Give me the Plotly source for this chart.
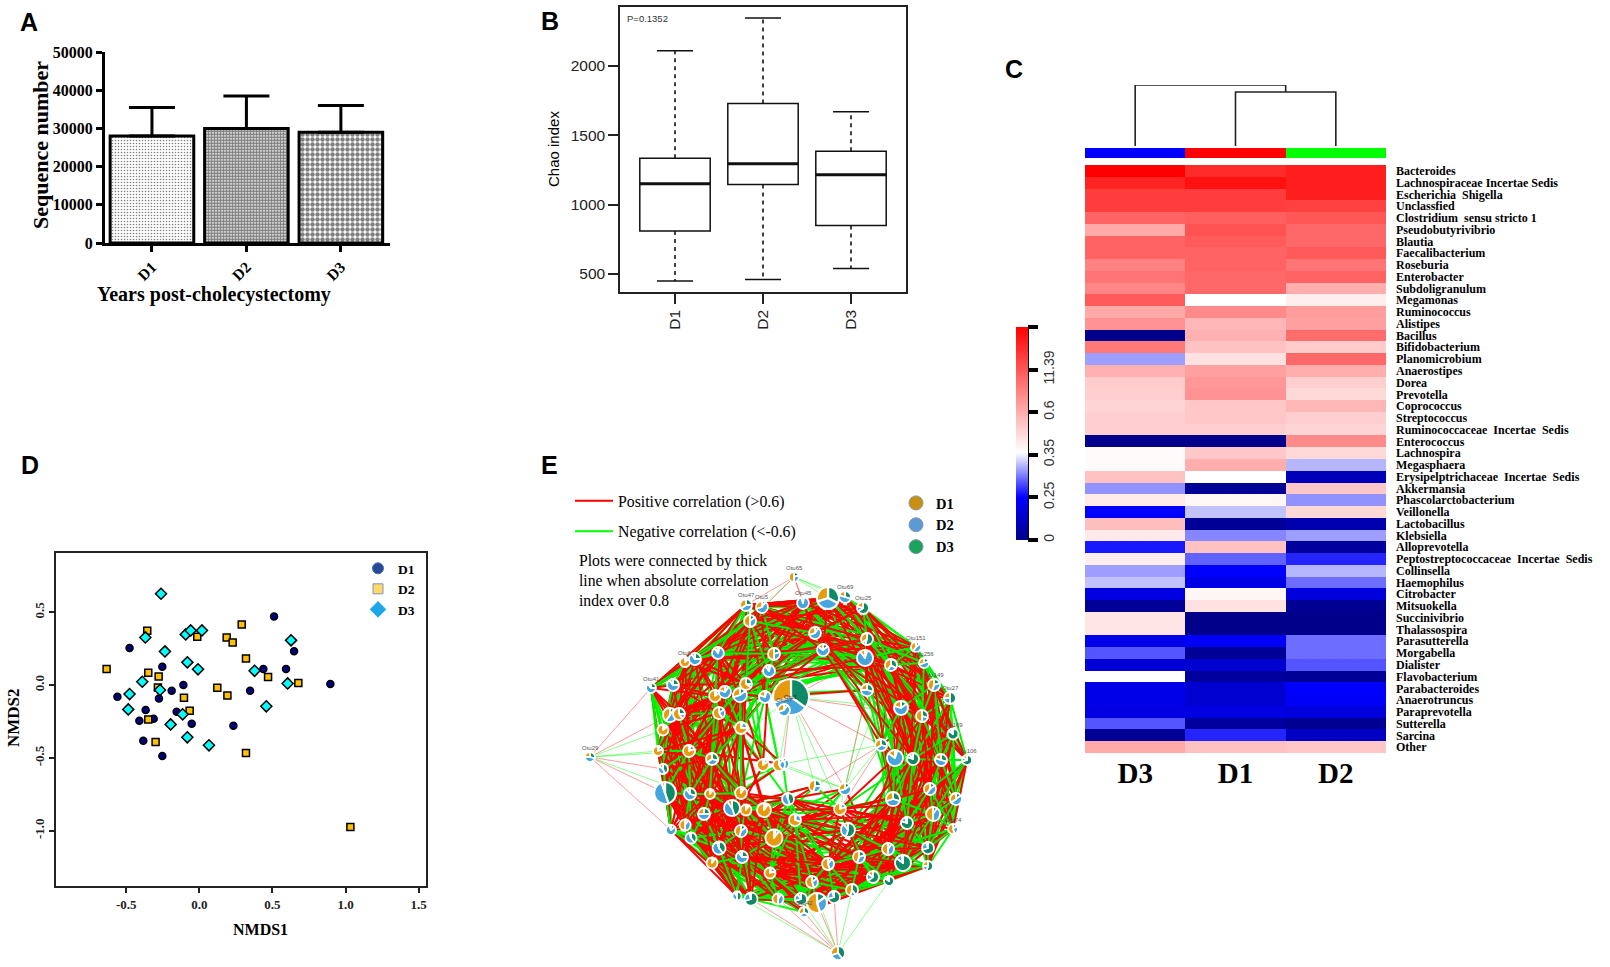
import plotly.graph_objects as go

W, H = 1610, 967
SERIF = "Liberation Serif"
SANS = "Liberation Sans"

# ---------- Panel A ----------
a_groups = ["D1", "D2", "D3"]
a_means = [28000, 30000, 29000]
a_errors = [7500, 8500, 7000]

# ---------- Panel B ----------
b_groups = ["D1", "D2", "D3"]
b_low = [450, 460, 540]
b_q1 = [810, 1145, 850]
b_median = [1150, 1295, 1215]
b_q3 = [1335, 1730, 1385]
b_high = [2110, 2345, 1670]

# ---------- Panel C ----------
c_columns = ["D3", "D1", "D2"]
c_genera = ["Bacteroides", "Lachnospiraceae Incertae Sedis", "Escherichia  Shigella", "Unclassfied",
            "Clostridium  sensu stricto 1", "Pseudobutyrivibrio", "Blautia", "Faecalibacterium", "Roseburia",
            "Enterobacter", "Subdoligranulum", "Megamonas", "Ruminococcus", "Alistipes", "Bacillus",
            "Bifidobacterium", "Planomicrobium", "Anaerostipes", "Dorea", "Prevotella", "Coprococcus",
            "Streptococcus", "Ruminococcaceae  Incertae  Sedis", "Enterococcus", "Lachnospira", "Megasphaera",
            "Erysipelptrichaceae  Incertae  Sedis", "Akkermansia", "Phascolarctobacterium", "Veillonella",
            "Lactobacillus", "Klebsiella", "Alloprevotella", "Peptostreptococcaceae  Incertae  Sedis",
            "Collinsella", "Haemophilus", "Citrobacter", "Mitsuokella", "Succinivibrio", "Thalassospira",
            "Parasutterella", "Morgabella", "Dialister", "Flavobacterium", "Parabacteroides", "Anaerotruncus",
            "Paraprevotella", "Sutterella", "Sarcina", "Other"]
c_d3 = [5.0, 4.6, 4.3, 4.3, 3.85, 3.05, 3.85, 3.85, 3.5, 3.65, 3.45, 3.95, 3.05, 3.3, 0.0, 3.6, 1.65, 2.95, 2.65, 2.6,
        2.55, 2.6, 2.6, 0.0, 2.1, 2.1, 2.75, 1.6, 2.3, 1.0, 2.8, 2.3, 1.1, 2.25, 1.65, 1.8, 0.75, 0.1, 2.35, 2.35,
        0.8, 1.35, 0.65, 2.05, 0.8, 0.8, 0.75, 1.35, 0.1, 3.05]
c_d1 = [4.5, 4.8, 4.3, 4.3, 3.9, 4.05, 3.95, 3.85, 3.85, 3.8, 3.8, 2.05, 3.4, 2.9, 2.95, 2.75, 2.4, 3.15, 3.25, 3.3,
        2.7, 2.7, 2.6, 0.0, 2.7, 3.0, 2.05, 0.1, 2.15, 1.8, 0.1, 1.55, 2.75, 1.4, 1.0, 0.8, 2.15, 2.4, 0.0, 0.0,
        0.95, 0.1, 0.6, 0.15, 0.6, 0.6, 0.75, 0.15, 1.15, 2.75]
c_d2 = [4.65, 4.65, 4.65, 4.25, 4.0, 3.8, 3.8, 3.95, 3.65, 3.85, 3.0, 2.25, 3.2, 3.15, 3.75, 2.65, 3.8, 3.0, 2.6, 2.5,
        2.9, 2.6, 2.55, 3.4, 2.5, 1.75, 0.4, 2.7, 1.6, 2.5, 0.3, 1.65, 0.15, 1.15, 1.75, 1.45, 0.7, 0.05, 0.0, 0.0,
        1.45, 1.45, 1.35, 0.1, 1.0, 0.95, 0.7, 0.05, 0.5, 2.7]
c_bar_levels = [0, 1, 2, 3, 4, 5]
c_bar_labels = ["0", "0.25", "0.35", "0.6", "11.39", ""]
dendro_x = [[0, 0, 1.5, 1.5], [1, 1, 2, 2]]
dendro_y = [[0, 1.0, 1.0, 0.885], [0, 0.885, 0.885, 0]]

# ---------- Panel D ----------
d1_x = [-0.56, -0.477, -0.383, -0.41, -0.367, -0.312, -0.276, -0.253, -0.253, -0.189, -0.155, -0.109, -0.052, 0.233,
        0.347, 0.438, 0.511, 0.593, 0.648, 0.896]
d1_y = [-0.08, 0.254, -0.382, -0.245, -0.172, -0.231, -0.092, 0.126, -0.487, -0.039, -0.183, 0.0, -0.265, -0.279,
        -0.039, 0.11, 0.471, 0.11, 0.233, 0.007]
d2_x = [-0.634, -0.356, -0.349, -0.278, -0.283, -0.349, -0.299, -0.105, -0.066, -0.014, 0.123, 0.187, 0.192, 0.228,
        0.29, 0.319, 0.319, 0.47, 0.677, 1.033]
d2_y = [0.11, 0.373, 0.085, 0.059, -0.016, -0.236, -0.391, -0.087, -0.176, 0.332, -0.018, 0.327, -0.071, 0.293, 0.416,
        0.183, -0.467, 0.055, 0.014, -0.975]
d3_x = [-0.262, -0.369, -0.235, -0.477, -0.39, -0.486, -0.269, -0.093, -0.059, 0.018, -0.082, -0.009, -0.114, -0.196,
        -0.082, 0.066, 0.378, 0.627, 0.604, 0.458]
d3_y = [0.627, 0.327, 0.231, -0.062, 0.023, -0.167, -0.034, 0.348, 0.375, 0.375, 0.156, 0.108, -0.201, -0.27, -0.359,
        -0.414, 0.098, 0.307, 0.011, -0.146]

# ---------- Panel E: nodes ----------
node_x = [828, 815, 823, 845, 863, 867, 865, 867, 891, 916, 924, 901, 934, 950, 922, 881, 953, 895, 913, 941,
          967, 893, 930, 956, 907, 933, 953, 928, 928, 903, 888, 889, 873, 859, 852, 848, 840, 845, 838, 834,
          828, 817, 812, 804, 801, 795, 815, 788, 778, 770, 751, 737, 742, 774, 783, 764, 741, 746, 712, 719,
          691, 671, 685, 704, 732, 741, 779, 763, 710, 690, 665, 663, 590, 658, 689, 712, 741, 663, 670, 679,
          719, 651, 673, 715, 725, 740, 765, 746, 769, 685, 695, 718, 774, 750, 746, 762, 794, 803, 791, 784]
node_y = [598, 633, 650, 597, 608, 639, 658, 690, 665, 647, 663, 708, 685, 698, 716, 745, 734, 758, 759, 760,
          760, 799, 789, 799, 823, 814, 829, 848, 866, 863, 849, 881, 877, 857, 890, 830, 809, 789, 953, 897,
          864, 903, 882, 912, 899, 820, 786, 799, 899, 873, 899, 896, 857, 838, 764, 810, 831, 810, 863, 848,
          838, 830, 825, 814, 808, 793, 765, 765, 794, 794, 793, 769, 757, 751, 751, 759, 728, 730, 715, 714,
          713, 688, 685, 696, 692, 695, 697, 684, 671, 662, 659, 653, 654, 621, 605, 607, 577, 603, 697, 710]
node_r = [11, 6, 6, 6, 6, 6, 8, 6, 6, 5, 5, 7, 6, 6, 6, 6, 5.5, 8, 6, 6,
          5, 7, 6, 6, 6, 7, 5, 6, 5, 8, 6, 5, 6, 6, 6, 7, 6, 6, 7, 6,
          6, 10, 6, 5, 6, 6, 6, 6, 5.5, 5.5, 6.5, 4.5, 6, 8.5, 6, 7, 6, 5.5, 5.5, 6.5,
          5.5, 5, 5.5, 6, 8, 6, 6, 6, 5, 6, 11, 5, 5, 5, 6, 6, 6, 5.5, 7, 6,
          6, 5, 6, 6, 6, 7, 6, 6, 6, 5, 6, 6, 6, 6, 6, 6, 5, 6, 18, 6]
node_d3 = [33, 10, 15, 30, 65, 55, 5, 30, 35, 15, 20, 15, 20, 50, 30, 30, 85, 5, 80, 30,
           70, 30, 15, 15, 80, 10, 15, 70, 55, 85, 10, 85, 65, 20, 40, 55, 5, 15, 40, 70,
           10, 15, 15, 35, 70, 5, 25, 45, 10, 5, 70, 50, 25, 3, 10, 5, 15, 5, 3, 40,
           40, 15, 10, 25, 45, 5, 10, 5, 5, 30, 45, 45, 30, 5, 5, 30, 5, 5, 10, 25,
           15, 25, 25, 5, 10, 15, 5, 25, 5, 5, 25, 5, 20, 15, 25, 10, 20, 3, 35, 10]
node_d2 = [37, 60, 70, 50, 15, 10, 85, 45, 25, 45, 50, 65, 35, 25, 20, 35, 10, 80, 10, 50,
           15, 40, 45, 50, 15, 40, 30, 25, 20, 12, 40, 10, 20, 35, 15, 35, 15, 55, 30, 25,
           35, 30, 30, 30, 20, 25, 30, 50, 40, 15, 25, 40, 65, 7, 35, 5, 40, 5, 7, 55,
           55, 80, 40, 50, 45, 5, 30, 10, 5, 60, 50, 40, 45, 15, 15, 35, 20, 10, 50, 15,
           25, 65, 65, 10, 70, 55, 75, 10, 85, 10, 65, 85, 30, 35, 40, 60, 30, 92, 35, 60]
node_d1 = [30, 30, 15, 20, 20, 35, 10, 25, 40, 40, 30, 20, 45, 25, 50, 35, 5, 15, 10, 20,
           15, 30, 40, 35, 5, 50, 55, 5, 25, 3, 50, 5, 15, 45, 45, 10, 80, 30, 30, 5,
           55, 55, 55, 35, 10, 70, 45, 5, 50, 80, 5, 10, 10, 90, 55, 90, 45, 90, 90, 5,
           5, 5, 50, 25, 10, 90, 60, 85, 90, 10, 5, 15, 25, 80, 80, 35, 75, 85, 40, 60,
           60, 10, 10, 85, 20, 30, 20, 65, 10, 85, 10, 10, 50, 50, 35, 30, 50, 5, 30, 30]
node_labels = {96: "Otu65", 94: "Otu47", 95: "Otu5", 3: "Otu69", 4: "Otu25", 97: "Otu45", 9: "Otu151", 10: "Otu256",
               12: "Otu149", 13: "Otu27", 16: "Otu169", 20: "Otu106", 26: "Otu74", 72: "Otu29", 98: "Otu1",
               99: "Otu47", 43: "Otu42", 81: "Otu41", 89: "Otu6"}

# ---------- Panel E: edges, as estimated by eye ----------
red_thick = {0: [5, 8, 11, 14, 92, 88, 86], 1: [6, 9, 12, 93, 91, 89, 15], 2: [7, 10, 13, 90, 87, 83],
             3: [8, 11, 2, 92, 97], 4: [10, 14, 1, 2, 97, 93, 7], 5: [12, 16, 95, 92], 6: [11, 14, 18, 93, 97],
             7: [13, 19, 9, 16], 8: [15, 17, 20, 12, 22], 9: [14, 18, 21, 7, 11], 10: [19, 22, 15, 6],
             11: [16, 21, 24, 19], 12: [17, 23, 18, 25], 13: [19, 22, 25, 15], 14: [20, 24, 26, 29], 15: [22, 25, 21],
             16: [22, 27, 24, 21], 17: [23, 27, 30, 32], 18: [25, 29, 33, 28], 19: [26, 28, 30, 35],
             20: [24, 27, 31, 26], 21: [29, 33, 36, 39], 22: [27, 32, 35, 40], 23: [28, 30, 34], 24: [31, 35, 41, 33],
             25: [30, 34, 40], 26: [31, 29, 33], 27: [33, 36, 42], 28: [34, 39, 32], 29: [36, 40, 44, 45],
             30: [39, 42, 47], 31: [37, 41, 45], 32: [40, 44, 49], 33: [42, 47, 52], 34: [43, 50, 53],
             35: [44, 49, 55], 36: [45, 52, 56], 37: [47, 53], 39: [48, 51, 55], 40: [50, 56, 59], 41: [49, 52, 58],
             42: [51, 55, 60], 43: [53, 58, 63], 44: [52, 56, 61], 45: [55, 59, 64, 62], 46: [56, 63],
             47: [57, 60, 65, 68], 48: [56, 59, 62], 49: [58, 60, 63, 69], 50: [59, 61, 64], 51: [60, 61, 63, 70],
             52: [62, 65, 69], 53: [63, 68, 70], 54: [65, 74, 76], 55: [64, 69, 71, 73], 56: [68, 70, 74],
             57: [69, 73, 75, 77], 58: [67, 71, 74], 59: [71, 77, 76], 60: [73, 78, 80], 61: [69, 70, 71, 75],
             62: [74, 77, 79, 83], 63: [75, 78, 82], 64: [76, 79, 85], 65: [78, 81, 84], 67: [80, 85, 88],
             68: [81, 83, 87], 69: [79, 82, 89], 70: [78, 82, 90, 83], 71: [81, 89, 91], 73: [83, 87, 90],
             74: [84, 88, 92], 75: [86, 89, 93], 76: [88, 91, 94], 77: [85, 90, 92], 78: [87, 91, 95], 79: [86, 93, 97],
             80: [92, 95, 0], 81: [89, 91, 94, 93], 82: [90, 93, 1], 83: [92, 95, 2], 84: [97, 0, 5], 85: [93, 1, 6],
             86: [0, 3, 7], 87: [94, 2, 8], 88: [95, 3, 5], 89: [94, 97, 1], 90: [95, 1, 2], 91: [97, 0, 4],
             92: [1, 4, 8, 6], 93: [3, 5, 9, 2], 94: [0, 4, 8, 97, 1], 95: [3, 6, 9], 97: [4, 5, 8, 10]}
green_thick = {0: [4, 9, 6, 93, 89, 83, 10], 1: [5, 8, 11, 94, 90, 84], 2: [6, 11, 14, 91, 85, 79],
               3: [4, 9, 10, 94, 95, 91], 4: [9, 12, 16, 92, 95], 5: [9, 13, 17, 91, 86], 6: [12, 16, 19, 90, 95],
               7: [12, 14, 18, 21], 8: [13, 18, 23, 91, 3], 9: [10, 12, 19, 21, 15], 10: [12, 16, 20, 18],
               11: [18, 22, 27, 13], 12: [13, 20, 24, 16], 13: [16, 21, 23, 26], 14: [21, 25, 30], 15: [18, 24, 28, 30],
               16: [20, 23, 26, 19], 17: [25, 28, 33, 21], 18: [22, 26, 31, 35], 19: [24, 29, 32], 20: [26, 23, 28, 25],
               21: [27, 31, 36, 40], 22: [28, 34, 29], 23: [26, 29, 32, 27], 24: [30, 36, 42], 25: [28, 33, 39],
               26: [28, 32, 27], 27: [31, 35, 44], 28: [31, 33, 41], 29: [35, 39, 47], 30: [35, 43, 52],
               31: [34, 39, 40], 32: [36, 42, 50], 33: [41, 45, 53], 34: [39, 44, 49], 35: [42, 51, 56],
               36: [47, 50, 55], 37: [49, 56], 39: [43, 45, 52], 40: [49, 53, 61], 41: [44, 50, 60], 42: [48, 53, 59],
               43: [50, 52, 57], 44: [51, 54, 62], 45: [52, 60, 63], 46: [52, 64], 47: [58, 63, 67], 48: [50, 51, 60],
               49: [59, 62, 65], 50: [51, 58, 61], 51: [58, 60, 62, 68], 52: [61, 64, 70], 53: [62, 65, 73],
               54: [63, 68], 55: [63, 70, 74], 56: [62, 69, 76], 57: [68, 71, 78], 58: [61, 70, 77], 59: [69, 75, 81],
               60: [61, 71, 79], 61: [71, 73, 78], 62: [70, 73, 82], 63: [71, 80, 89], 64: [75, 83, 90],
               65: [77, 82, 91], 66: [84, 86, 93], 67: [83, 87, 94], 68: [78, 85, 89], 69: [77, 81, 87],
               70: [71, 73, 79, 81], 71: [73, 77, 82], 73: [77, 81, 90], 74: [82, 85, 95], 75: [84, 91, 0],
               76: [87, 90, 1], 77: [78, 81, 89], 78: [81, 82, 93], 79: [88, 94, 2], 80: [90, 97, 5], 81: [89, 94, 90],
               82: [92, 94, 3], 83: [88, 97, 8], 84: [93, 95, 4], 85: [94, 3, 7], 86: [97, 2, 6], 87: [95, 1, 5],
               88: [97, 0, 8], 89: [90, 94, 95], 90: [94, 0, 4], 91: [95, 3, 6], 92: [97, 3, 9], 93: [94, 0, 10],
               94: [95, 97, 3, 4], 95: [97, 0, 4, 9], 97: [0, 3, 4, 8]}
green_long = {0: [12, 16, 21], 1: [14, 17, 19], 2: [16, 12, 18], 3: [14, 19, 22], 4: [17, 21, 18], 5: [19, 20, 23],
              6: [21, 23, 17], 8: [21, 24, 26], 9: [22, 25, 27], 10: [24, 27, 29], 11: [25, 29, 30], 12: [26, 28, 31],
              13: [27, 29, 32], 14: [28, 31, 33], 16: [29, 32, 34], 17: [29, 34, 35], 18: [32, 34, 36],
              19: [33, 35, 39], 20: [32, 30, 34], 21: [35, 41, 44], 22: [36, 39, 42], 23: [35, 39, 41],
              24: [39, 43, 45], 25: [41, 44, 47], 26: [40, 42, 34], 27: [41, 45, 48], 28: [42, 44, 50],
              29: [48, 50, 53], 30: [49, 51, 55], 31: [44, 48, 50], 32: [51, 52, 56], 33: [48, 55, 56],
              34: [48, 51, 52], 35: [50, 52, 57], 36: [53, 57, 62], 39: [50, 56, 58], 40: [55, 58, 60],
              41: [53, 56, 59], 42: [57, 61, 62], 43: [58, 59, 60], 44: [58, 60, 63], 45: [58, 61, 68],
              47: [62, 64, 69], 48: [61, 58, 63], 49: [64, 68, 70], 50: [62, 63, 69], 51: [69, 71, 65],
              52: [68, 71, 73], 53: [69, 74, 75], 55: [68, 75, 77], 56: [71, 73, 75], 57: [74, 70, 76],
              58: [69, 73, 78], 59: [73, 74, 79], 60: [74, 77, 80], 61: [74, 77, 81], 62: [76, 78, 81],
              63: [79, 83, 84], 64: [80, 84, 87], 65: [80, 85, 86], 68: [82, 84, 90], 69: [83, 85, 91],
              70: [84, 80, 89], 71: [83, 87, 90], 73: [85, 89, 91], 74: [87, 90, 93], 75: [85, 92, 94],
              76: [86, 92, 97], 77: [88, 91, 94], 78: [90, 92, 94], 79: [91, 95, 1], 80: [93, 94, 1], 81: [92, 97, 0],
              82: [95, 97, 0], 83: [94, 1, 5], 84: [94, 2, 6], 85: [95, 2, 8], 86: [1, 5, 9], 87: [97, 4, 6],
              88: [1, 4, 10], 89: [0, 3, 5], 90: [3, 5, 8], 91: [1, 2, 5], 92: [5, 9, 10], 93: [6, 8, 11],
              94: [2, 5, 9], 95: [5, 8, 10], 97: [6, 9, 11]}
red_long = {0: [13, 18, 9], 1: [16, 18, 10], 2: [14, 17, 9], 3: [12, 18, 20], 4: [13, 19, 20], 5: [14, 18, 21],
            6: [20, 22, 13], 8: [19, 23, 25], 9: [20, 24, 26], 10: [23, 25, 28], 11: [23, 26, 28], 12: [27, 29, 30],
            13: [28, 30, 24], 14: [27, 30, 32], 16: [25, 28, 30], 17: [31, 33, 36], 18: [30, 35, 39],
            19: [31, 34, 40], 20: [29, 33, 28], 21: [34, 40, 42], 22: [33, 41, 45], 23: [33, 36, 40],
            24: [40, 42, 47], 25: [39, 42, 45], 26: [36, 39, 41], 27: [39, 44, 47], 28: [40, 43, 49],
            29: [41, 49, 52], 30: [44, 50, 53], 31: [43, 49, 52], 32: [48, 53, 55], 33: [49, 50, 57],
            34: [49, 52, 56], 35: [51, 53, 59], 36: [49, 55, 59], 39: [49, 53, 57], 40: [53, 57, 62],
            41: [50, 55, 60], 42: [56, 58, 63], 43: [49, 56, 60], 44: [57, 59, 62], 45: [56, 61, 69],
            47: [59, 63, 70], 48: [60, 63, 68], 49: [62, 68, 73], 50: [60, 65, 70], 51: [62, 68, 69],
            52: [70, 74, 75], 53: [71, 75, 76], 55: [74, 76, 78], 56: [73, 75, 77], 57: [70, 71, 76],
            58: [70, 73, 75], 59: [70, 74, 78], 60: [70, 75, 77], 61: [73, 74, 77], 62: [78, 75, 80],
            63: [76, 80, 83], 64: [78, 80, 83], 65: [79, 83, 87], 68: [79, 84, 85], 69: [78, 80, 84],
            70: [77, 79, 85], 71: [78, 80, 85], 73: [78, 82, 84], 74: [80, 85, 89], 75: [87, 90, 91],
            76: [83, 90, 93], 77: [82, 87, 91], 78: [89, 93, 94], 79: [87, 90, 94], 80: [85, 91, 93],
            81: [83, 90, 95], 82: [87, 91, 94], 83: [90, 93, 97], 84: [91, 95, 1], 85: [91, 97, 2], 86: [93, 95, 2],
            87: [91, 97, 6], 88: [97, 1, 8], 89: [92, 93, 2], 90: [92, 97, 0], 91: [93, 2, 3], 92: [0, 2, 5],
            93: [1, 4, 8], 94: [3, 5, 6], 95: [0, 1, 8], 97: [1, 2, 9]}
green_top = {0: [2, 8, 5], 1: [2, 7, 93], 2: [5, 8, 92], 4: [5, 8], 5: [8, 10, 6], 6: [8, 9, 7], 8: [9, 10, 14],
             9: [12, 13], 10: [13, 14], 11: [14, 12, 15], 12: [14, 19], 13: [14, 20, 18], 14: [18, 19],
             16: [18, 19, 23], 17: [18, 21, 24], 18: [19, 21, 24], 19: [20, 22, 23], 20: [22, 25], 21: [22, 24, 25],
             22: [24, 25, 26], 23: [25, 27], 24: [27, 29, 25], 25: [26, 27, 29], 26: [27, 30], 27: [28, 29, 30],
             28: [29, 30, 32], 29: [30, 31, 33], 30: [32, 33, 35], 31: [32, 33, 39], 32: [33, 34, 35],
             33: [34, 35, 36, 40], 34: [40, 41, 42], 35: [36, 40, 45], 36: [40, 46], 39: [40, 41, 44],
             40: [42, 45, 47], 41: [42, 43, 48], 42: [43, 44, 47], 44: [45, 48, 49], 45: [47, 49, 53],
             47: [49, 53, 55], 48: [49, 51, 52], 49: [52, 53], 50: [52, 56], 51: [52, 59], 52: [53, 56, 58],
             53: [55, 56, 57], 55: [57, 64, 65], 56: [57, 59, 60], 57: [63, 64], 58: [59, 60], 59: [60, 62, 63],
             60: [62, 63, 69], 61: [62, 70], 62: [63, 69], 63: [64, 68, 69], 64: [65, 68], 65: [68, 75, 76],
             68: [69, 75], 69: [70, 74, 75], 70: [74, 77], 71: [74, 78], 73: [74, 78], 74: [75, 79, 80],
             75: [76, 80, 83], 76: [80, 84, 85], 77: [79, 82], 78: [79, 83], 79: [80, 82], 80: [83, 84, 87],
             81: [82, 90], 82: [83, 89], 83: [84, 87, 91], 84: [85, 87, 92], 85: [86, 87, 88], 86: [88, 92],
             87: [88, 93], 88: [92, 93], 89: [91, 93], 90: [91, 93], 91: [92, 94], 92: [93, 95], 93: [95, 97]}
red_top = {78: [83, 84, 74], 79: [84, 75, 89], 81: [78, 79, 82], 82: [79, 80, 83], 73: [75, 76, 79], 74: [76, 83],
           77: [80, 83, 84], 71: [75, 79], 61: [63, 68], 60: [64, 65], 62: [64, 65, 68], 58: [63, 64, 65],
           59: [64, 65, 68], 52: [55, 57, 64], 56: [63, 64, 65], 50: [52, 55, 57], 40: [52, 55, 36], 45: [57, 65],
           33: [36, 45], 35: [45, 40], 29: [33, 35], 24: [29, 36], 27: [35, 30], 21: [30, 24], 22: [21, 29],
           8: [11, 14], 11: [14, 17], 14: [22, 17], 12: [22, 16], 6: [7, 8], 5: [7, 11], 2: [0, 5], 1: [4, 7],
           97: [2, 93], 95: [2, 93], 93: [91, 92], 89: [90, 87], 90: [87, 83], 91: [84, 85], 84: [80, 86]}
red_thin = {96: [94, 97, 1, 93], 38: [43, 48, 50, 41, 39], 72: [71, 70, 61, 78, 81],
            98: [5, 6, 14, 15, 54, 37], 15: [36, 46], 7: [37]}
green_thin = {96: [95, 0, 3, 4], 38: [44, 34, 31, 42, 51], 72: [77, 74, 73, 69],
              98: [7, 11, 46, 66, 75, 36], 15: [37, 54], 7: [36], 37: [54, 66], 8: [15, 37]}


def dx(a, b):
    return [a / W, b / W]


def dy(top, bottom):
    return [1 - bottom / H, 1 - top / H]


def edge_xy(adj):
    xs, ys = [], []
    for a, targets in adj.items():
        for b in targets:
            xs += [node_x[a], node_x[b], None]
            ys += [node_y[a], node_y[b], None]
    return xs, ys


fig = go.Figure()

# Panel A
a_shapes = [(".", 3, 0.22), (".", 3, 0.72), (".", 5, 0.62)]
fig.add_trace(go.Bar(
    x=a_groups, y=a_means, xaxis="x", yaxis="y", showlegend=False, width=0.885,
    marker=dict(color="white", line=dict(color="black", width=3),
                pattern=dict(shape=[s[0] for s in a_shapes], size=[s[1] for s in a_shapes],
                             solidity=[s[2] for s in a_shapes], fgcolor="black", bgcolor="white")),
    error_y=dict(type="data", symmetric=False, array=a_errors, arrayminus=[0, 0, 0],
                 color="black", thickness=3, width=23)))

# Panel B
pos = list(range(3))
fig.add_trace(go.Box(x=pos, q1=b_q1, median=b_median, q3=b_q3, lowerfence=b_q1, upperfence=b_q3, width=0.8,
                     xaxis="x2", yaxis="y2", showlegend=False, boxpoints=False, whiskerwidth=0,
                     fillcolor="white", line=dict(color="#111111", width=1.5)))
wx, wy, cx, cy, mx, my = [], [], [], [], [], []
for i in pos:
    wx += [i, i, None, i, i, None]
    wy += [b_q3[i], b_high[i], None, b_q1[i], b_low[i], None]
    cx += [i - 0.205, i + 0.205, None, i - 0.205, i + 0.205, None]
    cy += [b_high[i], b_high[i], None, b_low[i], b_low[i], None]
    mx += [i - 0.4, i + 0.4, None]
    my += [b_median[i], b_median[i], None]
fig.add_trace(go.Scatter(x=wx, y=wy, mode="lines", xaxis="x2", yaxis="y2", showlegend=False,
                         line=dict(color="#111111", width=1.6, dash="4px,4px")))
fig.add_trace(go.Scatter(x=cx, y=cy, mode="lines", xaxis="x2", yaxis="y2", showlegend=False,
                         line=dict(color="#111111", width=1.5)))
fig.add_trace(go.Scatter(x=mx, y=my, mode="lines", xaxis="x2", yaxis="y2", showlegend=False,
                         line=dict(color="#111111", width=3)))

# Panel C
scale = [[0, "#00008b"], [0.2, "#0000ff"], [0.41, "#ffffff"], [1, "#ff0000"]]
heat_z = [[c_d3[i], c_d1[i], c_d2[i]] for i in range(len(c_genera))]
fig.add_trace(go.Heatmap(
    z=heat_z, x=c_columns, y=c_genera, xaxis="x3", yaxis="y3", zmin=0, zmax=5, colorscale=scale,
    xgap=0, ygap=0,
    colorbar=dict(x=1016 / W, xanchor="left", y=1 - 433.5 / H, yanchor="middle", lenmode="pixels", len=213,
                  thicknessmode="pixels", thickness=12, xpad=0, ypad=0, outlinewidth=0,
                  tickmode="array", tickvals=c_bar_levels, ticktext=c_bar_labels, ticks="outside",
                  ticklen=10, tickwidth=4, tickcolor="black", tickangle=-90,
                  tickfont=dict(family=SANS, size=14, color="#333333"))))
fig.add_trace(go.Heatmap(z=[[0, 1, 2]], x=c_columns, xaxis="x7", yaxis="y7", showscale=False, zmin=0, zmax=2,
                         colorscale=[[0, "#0000ff"], [0.33, "#0000ff"], [0.34, "#ff0000"], [0.66, "#ff0000"],
                                     [0.67, "#00ff00"], [1, "#00ff00"]]))
for xs, ys in zip(dendro_x, dendro_y):
    fig.add_trace(go.Scatter(x=xs, y=ys, mode="lines", xaxis="x6", yaxis="y6", showlegend=False,
                             line=dict(color="#222222", width=1.6)))

# Panel D
fig.add_trace(go.Scatter(x=d1_x, y=d1_y, mode="markers", xaxis="x4", yaxis="y4", showlegend=False,
                         marker=dict(symbol="circle", size=7, color="#000080", line=dict(color="black", width=1.5))))
fig.add_trace(go.Scatter(x=d2_x, y=d2_y, mode="markers", xaxis="x4", yaxis="y4", showlegend=False,
                         marker=dict(symbol="square", size=7, color="#ffc000", line=dict(color="black", width=1.5))))
fig.add_trace(go.Scatter(x=d3_x, y=d3_y, mode="markers", xaxis="x4", yaxis="y4", showlegend=False,
                         marker=dict(symbol="diamond", size=8.5, color="#00ffff", line=dict(color="black", width=1.5))))
for name, sym, col, line_col, size in [("D1", "circle", "#284a96", "#4a6bb0", 11),
                                       ("D2", "square", "#ffd966", "#7f96c0", 10),
                                       ("D3", "diamond", "#1ea7e8", "#1ea7e8", 12)]:
    fig.add_trace(go.Scatter(x=[None], y=[None], mode="markers", name=name, xaxis="x4", yaxis="y4", legend="legend",
                             marker=dict(symbol=sym, size=size, color=col, line=dict(color=line_col, width=1))))

# Panel E: edges
layers = [(red_thin, "rgba(255,0,0,0.4)", 1, None), (green_thin, "rgba(0,255,0,0.45)", 1, None),
          (green_thick, "#00ff00", 2.0, "Negative correlation (<-0.6)"),
          (red_thick, "#ff0000", 2.0, "Positive correlation (>0.6)"),
          (green_long, "#00f000", 1.9, None), (red_long, "#ff0000", 1.9, None),
          (green_top, "#00ee00", 2.0, None), (red_top, "#ff0000", 2.0, None)]
for adj, col, width, name in layers:
    ex, ey = edge_xy(adj)
    extra = dict(showlegend=False) if name is None else dict(
        name=name, legend="legend2", legendgroup=name, legendrank=1 if "Positive" in name else 2)
    fig.add_trace(go.Scatter(x=ex, y=ey, mode="lines", xaxis="x5", yaxis="y5", hoverinfo="skip",
                             line=dict(color=col, width=width), **extra))
for name, col in [("D1", "#c8900f"), ("D2", "#5b9bd5"), ("D3", "#1aa35a")]:
    fig.add_trace(go.Scatter(x=[None], y=[None], mode="markers", name=name, xaxis="x5", yaxis="y5", legend="legend3",
                             marker=dict(symbol="circle", size=14, color=col, line=dict(color="#8a97a8", width=1))))

# Panel E: nodes as pies
for i in range(len(node_x)):
    r = node_r[i]
    fig.add_trace(go.Pie(values=[node_d3[i], node_d2[i], node_d1[i]], labels=["D3", "D2", "D1"], sort=False,
                         direction="clockwise", rotation=0, textinfo="none", hoverinfo="label+percent",
                         showlegend=False,
                         marker=dict(colors=["#0f8a66", "#45a5dd", "#e69a0c"],
                                     line=dict(color="white", width=1.8 if r < 10 else 2.2)),
                         domain=dict(x=dx(node_x[i] - r, node_x[i] + r),
                                     y=dy(node_y[i] - r, node_y[i] + r))))


def ann(text, x, y, size, family=SERIF, bold=False, anchor="center", angle=0, color="black"):
    return dict(text=f"<b>{text}</b>" if bold else text, x=x / W, y=1 - y / H, xref="paper", yref="paper",
                xanchor=anchor, yanchor="middle", showarrow=False, textangle=angle,
                font=dict(family=family, size=size, color=color))


annotations = [
    ann("A", 29, 22, 25, SANS, True), ann("B", 550, 21, 25, SANS, True), ann("C", 1014, 69, 25, SANS, True),
    ann("D", 30, 465, 25, SANS, True), ann("E", 549, 465, 25, SANS, True),
    ann("Sequence number", 41, 145, 22, SERIF, True, angle=-90),
    ann("Years post-cholecystectomy", 214, 295, 20, SERIF, True),
    ann("Chao index", 554, 149, 15, SANS, angle=-90),
    ann("P=0.1352", 625, 18, 9.5, SANS, anchor="left", color="#333333"),
    ann("NMDS1", 260, 929, 16, SERIF, True),
    ann("NMDS2", 13, 718, 17, SERIF, True, angle=-90),
    ann("Plots were connected by thick", 577, 561, 15.7, anchor="left"),
    ann("line when absolute correlation", 577, 580, 15.7, anchor="left"),
    ann("index over 0.8", 577, 600, 15.7, anchor="left"),
]
for idx, label in node_labels.items():
    annotations.append(dict(text=label, x=node_x[idx], y=node_y[idx] - (0 if idx == 98 else node_r[idx] + 4),
                            xref="x5", yref="y5", showarrow=False,
                            font=dict(family=SANS, size=6, color="#555555" if idx != 98 else "#222222")))

serif_bold = dict(family=SERIF, size=16, color="black", weight="bold")
sans = dict(family=SANS, size=15.5, color="#222222")
hidden = dict(visible=False, showgrid=False, zeroline=False)

fig.update_layout(
    width=W, height=H, margin=dict(l=0, r=0, t=0, b=0, pad=0, autoexpand=False),
    paper_bgcolor="white", plot_bgcolor="white", bargap=0.1,
    # A
    xaxis=dict(domain=dx(105, 390), anchor="y", range=[-0.497, 2.52], type="category", tickangle=-45, showgrid=False,
               showline=True, linecolor="black", linewidth=3, ticks="outside", ticklen=6, tickwidth=3,
               tickcolor="black", tickfont=dict(family=SERIF, size=15.5, color="black", weight="bold")),
    yaxis=dict(domain=dy(52, 243), anchor="x", range=[0, 50000], tickvals=[0, 10000, 20000, 30000, 40000, 50000],
               tickformat="d", showgrid=False, zeroline=False, showline=True, linecolor="black", linewidth=3,
               ticks="outside", ticklen=6, tickwidth=3, tickcolor="black", tickfont=serif_bold),
    # B
    xaxis2=dict(domain=dx(620, 906), anchor="y2", range=[-0.625, 2.625], tickvals=pos, ticktext=b_groups,
                tickangle=-90, showgrid=False, zeroline=False, showline=True, mirror=True, linecolor="#222222",
                linewidth=1.5, ticks="outside", ticklen=10, tickwidth=1.5, tickcolor="#222222", tickfont=sans),
    yaxis2=dict(domain=dy(7, 292), anchor="x2", range=[370, 2425], tickvals=[500, 1000, 1500, 2000], tickformat="d",
                showgrid=False, zeroline=False, showline=True, mirror=True, linecolor="#222222", linewidth=1.5,
                ticks="outside", ticklen=10, tickwidth=1.5, tickcolor="#222222", tickfont=sans),
    # C
    xaxis3=dict(domain=dx(1085, 1386), anchor="y3", showgrid=False, zeroline=False, ticks="", side="bottom",
                tickfont=dict(family=SERIF, size=29, color="black", weight="bold")),
    yaxis3=dict(domain=dy(165, 753), anchor="x3", side="right", autorange="reversed", showgrid=False, zeroline=False,
                ticks="", tickmode="array", tickvals=c_genera, ticktext=c_genera, ticklabelstandoff=9,
                tickfont=dict(family=SERIF, size=12, color="black", weight="bold")),
    xaxis7=dict(domain=dx(1085, 1386), anchor="y7", **hidden),
    yaxis7=dict(domain=dy(148, 158), anchor="x7", **hidden),
    xaxis6=dict(domain=dx(1085, 1386), anchor="y6", range=[-0.5, 2.5], **hidden),
    yaxis6=dict(domain=dy(85, 146), anchor="x6", range=[0, 1], **hidden),
    # D
    xaxis4=dict(domain=dx(56, 426), anchor="y4", range=[-0.98, 1.55], tickvals=[-0.5, 0, 0.5, 1, 1.5],
                ticktext=["-0.5", "0.0", "0.5", "1.0", "1.5"], showgrid=False, zeroline=False, showline=True,
                mirror=True, linecolor="#222222", linewidth=2, ticks="outside", ticklen=5, tickwidth=1.5,
                tickcolor="#222222", tickfont=dict(family=SERIF, size=13, color="#222222", weight="bold")),
    yaxis4=dict(domain=dy(553, 886), anchor="x4", range=[-1.38, 0.907], tickvals=[-1, -0.5, 0, 0.5],
                ticktext=["-1.0", "-0.5", "0.0", "0.5"], tickangle=-90, showgrid=False, zeroline=False, showline=True,
                mirror=True, linecolor="#222222", linewidth=2, ticks="outside", ticklen=5, tickwidth=1.5,
                tickcolor="#222222", tickfont=dict(family=SERIF, size=13, color="#222222", weight="bold")),
    # E
    xaxis5=dict(domain=dx(565, 975), anchor="y5", range=[565, 975], **hidden),
    yaxis5=dict(domain=dy(565, 965), anchor="x5", range=[965, 565], **hidden),
    legend=dict(x=358 / W, y=1 - 553 / H, xanchor="left", yanchor="top", bgcolor="rgba(0,0,0,0)",
                font=dict(family=SERIF, size=13.5, color="black", weight="bold"), itemclick=False, itemdoubleclick=False),
    legend2=dict(x=570 / W, y=1 - 484 / H, xanchor="left", yanchor="top", bgcolor="rgba(0,0,0,0)", itemwidth=38,
                 tracegroupgap=7, font=dict(family=SERIF, size=15.8, color="black"), itemclick=False,
                 itemdoubleclick=False),
    legend3=dict(x=896 / W, y=1 - 487 / H, xanchor="left", yanchor="top", bgcolor="rgba(0,0,0,0)",
                 font=dict(family=SERIF, size=14.5, color="black", weight="bold"), itemclick=False,
                 itemdoubleclick=False),
    annotations=annotations,
    shapes=[dict(type="line", xref="paper", yref="paper", x0=1028 / W, x1=1028 / W, y0=1 - 327 / H, y1=1 - 540 / H,
                 line=dict(color="black", width=2))],
)

fig.write_html("out.html", config={"displayModeBar": False},
               post_script="document.body.style.margin='0';document.documentElement.style.overflow='hidden';")
